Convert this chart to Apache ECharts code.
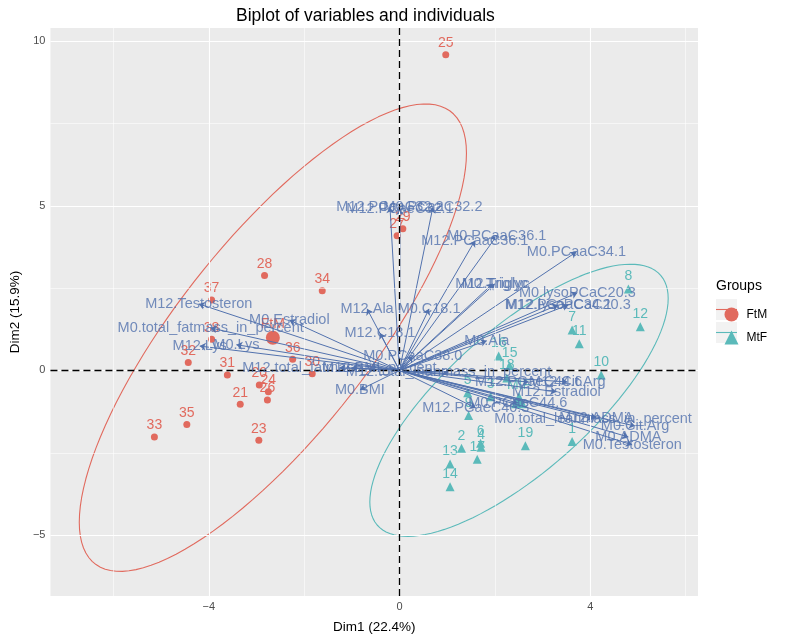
<!DOCTYPE html>
<html><head><meta charset="utf-8">
<script src="https://cdn.jsdelivr.net/npm/echarts@6/dist/echarts.min.js"></script>
<style>html,body{margin:0;padding:0;background:#fff}#c{width:787px;height:640px}</style>
</head><body><div id="c"></div><script>
// ---------- data ----------
const ftmIds = ['20','21','23','24','25','26','27','28','29','30','31','32','33','34','35','36','37','38'];
const ftmX = [-2.94,-3.34,-2.95,-2.75,0.97,-2.77,-0.05,-2.83,0.07,-1.83,-3.61,-4.43,-5.14,-1.62,-4.46,-2.24,-3.94,-3.94];
const ftmY = [-0.44,-1.03,-2.12,-0.65,9.59,-0.90,4.09,2.88,4.30,-0.10,-0.14,0.24,-2.02,2.42,-1.64,0.34,2.14,0.95];

const mtfIds = ['1','2','3','4','5','6','7','8','9','10','11','12','13','14','15','16','17','18','19'];
const mtfX = [3.62,1.30,1.91,1.71,1.43,1.70,3.62,4.80,1.45,4.23,3.77,5.05,1.06,1.06,2.31,2.08,1.63,2.25,2.64];
const mtfY = [-2.16,-2.36,-0.80,-2.33,-0.68,-2.21,1.23,2.47,-1.37,-0.14,0.81,1.33,-2.84,-3.53,0.14,0.44,-2.70,-0.23,-2.29];

const varNames = ['M12.Testosteron','M0.Estradiol','M0.total_fatmass_in_percent','M12.Lys','M0.Lys',
  'M12.total_fatmass_in_percent','M12.BMI','M0.BMI','M0.PCaaC38.0','M12.C18.1','M12.Ala','M0.C18.1',
  'M12.Triglyc','M0.Triglyc','M0.PCaaC36.1','M12.PCaaC36.1','M0.PCaaC34.1','M0.lysoPCaC20.3',
  'M12.lysoPCaC20.3','M12.PCaaC34.1','M12.PCaaC32.2','M12.PCaeC32.1','M0.PCaaC32.2','M0.Ala',
  'M12.PCaeC40.3','M0.PCaeC44.6','M12.Estradiol','M12.PCaeC44.6','M12.Cit.Arg',
  'M0.total_leanmass_in_percent','M12.ADMA','M0.Cit.Arg','M0.ADMA','M0.Testosteron','M12.total_leanmass_in_percent'];
const varX = [-4.21,-2.31,-3.96,-4.19,-3.42,-1.26,-1.01,-0.83,0.28,-0.41,-0.68,0.62,
  1.95,2.00,2.04,1.58,3.71,3.73,3.54,3.33,-0.20,0.01,0.70,1.83,
  1.60,2.48,3.29,2.71,3.52,4.06,4.13,4.94,4.80,4.88,1.03];
const varY = [2.02,1.53,1.29,0.74,0.78,0.08,0.08,-0.59,0.44,1.14,1.87,1.87,
  2.63,2.63,4.09,3.94,3.60,2.36,1.99,1.99,4.96,4.90,4.96,0.90,
  -1.14,-0.99,-0.65,-0.35,-0.35,-1.47,-1.44,-1.69,-2.02,-2.26,-0.05];

const xTicks = [-4, 0, 4];
const xMinor = [-6, -2, 2, 6];
const yTicks = [-5, 0, 5, 10];
const yMinor = [-2.5, 2.5, 7.5];

// ---------- styles ----------
const RED = '#E16A5E', TEAL = '#5BBABA', BLUE = '#5272AE';
const FONT = 'Liberation Sans, Arial, Helvetica, sans-serif';

function mean(a){return a.reduce((s,v)=>s+v,0)/a.length;}
function ellipse(xs, ys){
  const n = xs.length, mx = mean(xs), my = mean(ys);
  let sxx=0, syy=0, sxy=0;
  for(let i=0;i<n;i++){const dx=xs[i]-mx, dy=ys[i]-my; sxx+=dx*dx; syy+=dy*dy; sxy+=dx*dy;}
  sxx/=(n-1); syy/=(n-1); sxy/=(n-1);
  const r = Math.sqrt(5.991465); // chi-square 0.95, df 2
  const a = Math.sqrt(sxx), b = sxy/a, c = Math.sqrt(syy - b*b);
  const pts = [];
  for(let k=0;k<=120;k++){
    const t = 2*Math.PI*k/120, u=Math.cos(t), v=Math.sin(t);
    pts.push([mx + r*a*u, my + r*(b*u + c*v)]);
  }
  return pts;
}
const minus = v => String(v).replace('-', '\u2212');

const chart = echarts.init(document.getElementById('c'), null, {renderer:'canvas'});
const option = {
  animation: false,
  textStyle: {fontFamily: FONT},
  title: {text: 'Biplot of variables and individuals', left: 236, top: 7, padding: 0,
    textStyle: {fontFamily: FONT, fontSize: 17.5, fontWeight: 'normal', color: '#000'}},
  grid: {left: 48, right: 89, top: 28, bottom: 44, show: true, backgroundColor: '#EBEBEB', borderWidth: 0},
  xAxis: {type: 'value', min: -7.32, max: 6.26,
    axisLine: {show: false},
    axisTick: {show: true, customValues: xTicks, length: 3, lineStyle: {color: '#333', width: 1}},
    axisLabel: {customValues: xTicks, color: '#4D4D4D', fontSize: 11, margin: 5, formatter: minus},
    splitLine: {show: false},
    name: 'Dim1 (22.4%)', nameLocation: 'middle', nameGap: 24,
    nameTextStyle: {color: '#000', fontSize: 13.5, fontFamily: FONT}},
  yAxis: {type: 'value', min: -6.85, max: 10.4,
    axisLine: {show: false},
    axisTick: {show: true, customValues: yTicks, length: 3, lineStyle: {color: '#333', width: 1}},
    axisLabel: {customValues: yTicks, color: '#4D4D4D', fontSize: 11, margin: 5, formatter: minus},
    splitLine: {show: false},
    name: 'Dim2 (15.9%)', nameLocation: 'middle', nameGap: 24, nameRotate: 90,
    nameTextStyle: {color: '#000', fontSize: 13.5, fontFamily: FONT}},
  legend: {orient: 'vertical', left: 719.5, top: 302.5, itemWidth: 14, itemHeight: 14, itemGap: 9,
    data: [{name: 'FtM', icon: 'circle'}, {name: 'MtF', icon: 'triangle'}],
    textStyle: {fontSize: 12, color: '#000', fontFamily: FONT, padding: [0,0,0,3]},
    selectedMode: false, z: 5},
  graphic: [
    {type: 'text', left: 716, top: 279, z: 1, style: {text: 'Groups', font: '14px ' + FONT, fill: '#000'}},
    {type: 'rect', shape: {x: 716, y: 299, width: 21, height: 21}, style: {fill: '#F2F2F2'}, z: 1},
    {type: 'rect', shape: {x: 716, y: 322, width: 21, height: 21}, style: {fill: '#F2F2F2'}, z: 1},
    {type: 'line', shape: {x1: 716, y1: 309.5, x2: 737, y2: 309.5}, style: {stroke: RED, lineWidth: 1.1}, z: 1},
    {type: 'line', shape: {x1: 716, y1: 332.5, x2: 737, y2: 332.5}, style: {stroke: TEAL, lineWidth: 1.1}, z: 1}
  ],
  series: [
    {type: 'scatter', data: [[0,0]], symbolSize: 0, silent: true, z: 0,
      markLine: {silent: true, symbol: ['none','none'], label: {show: false}, animation: false,
        data: [
          ...xMinor.map(v => ({xAxis: v, lineStyle: {color: '#fff', width: 0.55, type: 'solid'}})),
          ...yMinor.map(v => ({yAxis: v, lineStyle: {color: '#fff', width: 0.55, type: 'solid'}})),
          ...xTicks.map(v => ({xAxis: v, lineStyle: {color: '#fff', width: 1.1, type: 'solid'}})),
          ...yTicks.map(v => ({yAxis: v, lineStyle: {color: '#fff', width: 1.1, type: 'solid'}}))
        ]}},
    {name: 'FtM', type: 'line', data: ellipse(ftmX, ftmY), showSymbol: false, symbol: 'none', smooth: false,
      lineStyle: {color: RED, width: 1.1}, itemStyle: {color: RED}, silent: true, z: 1},
    {name: 'MtF', type: 'line', data: ellipse(mtfX, mtfY), showSymbol: false, symbol: 'none', smooth: false,
      lineStyle: {color: TEAL, width: 1.1}, itemStyle: {color: TEAL}, silent: true, z: 1},
    {type: 'scatter', data: [[0,0]], symbolSize: 0, silent: true, z: 2,
      markLine: {silent: true, symbol: ['none','none'], label: {show: false}, animation: false,
        lineStyle: {color: '#000', width: 1.3, type: [7,4]},
        data: [{xAxis: 0}, {yAxis: 0}]}},
    {name: 'FtM', type: 'scatter', symbol: 'circle', symbolSize: 7, itemStyle: {color: RED, opacity: 1}, z: 3,
      data: ftmIds.map((id,i) => [ftmX[i], ftmY[i], id]),
      label: {show: true, position: 'top', distance: 1, formatter: p => p.value[2], color: RED, fontSize: 14, fontFamily: FONT}},
    {name: 'MtF', type: 'scatter', symbol: 'triangle', symbolSize: 9, itemStyle: {color: TEAL, opacity: 1}, z: 3,
      data: mtfIds.map((id,i) => [mtfX[i], mtfY[i], id]),
      label: {show: true, position: 'top', distance: 1, formatter: p => p.value[2], color: TEAL, fontSize: 14, fontFamily: FONT}},
    {name: 'FtM', type: 'scatter', symbol: 'circle', symbolSize: 14, itemStyle: {color: RED, opacity: 1}, z: 3,
      data: [[mean(ftmX), mean(ftmY), 'FtM']],
      label: {show: true, position: 'top', distance: 0, formatter: p => p.value[2], color: RED, fontSize: 14, fontFamily: FONT}},
    {name: 'MtF', type: 'scatter', symbol: 'triangle', symbolSize: 16, itemStyle: {color: TEAL, opacity: 1}, z: 3,
      data: [[mean(mtfX), mean(mtfY), 'MtF']],
      label: {show: true, position: 'top', distance: 0, formatter: p => p.value[2], color: TEAL, fontSize: 14, fontFamily: FONT}},
    {type: 'lines', coordinateSystem: 'cartesian2d', polyline: false, z: 4, silent: true,
      symbol: ['none','arrow'], symbolSize: 6,
      lineStyle: {color: BLUE, width: 1, opacity: 1, curveness: 0},
      data: varNames.map((n,i) => ({coords: [[0,0],[varX[i], varY[i]]]}))},
    {type: 'scatter', z: 5, symbolSize: 1, itemStyle: {color: 'rgba(0,0,0,0)'}, silent: true,
      data: varNames.map((n,i) => [varX[i], varY[i], n]),
      label: {show: true, position: 'inside', formatter: p => p.value[2], color: BLUE, fontSize: 14.5, fontFamily: FONT}}
  ]
};
chart.setOption(option);
</script></body></html>
